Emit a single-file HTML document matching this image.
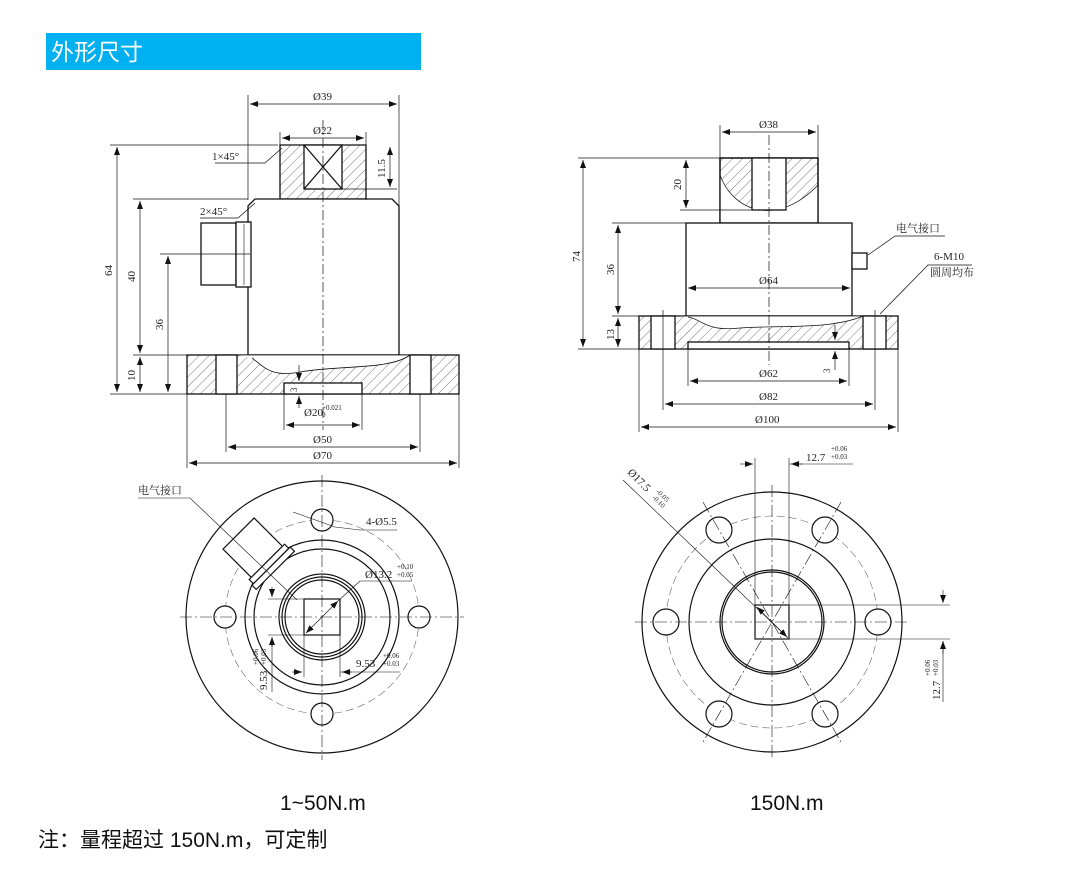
<!DOCTYPE html>
<html><head><meta charset="utf-8"><style>
html,body{margin:0;padding:0;background:#fff;}
svg{display:block;}
.t{font-family:"Liberation Serif","Noto Serif CJK SC",serif;font-size:11px;fill:#222;}
.c{font-family:"Liberation Sans","Noto Sans CJK SC",sans-serif;fill:#111;}
</style></head><body>
<svg width="1078" height="884" viewBox="0 0 1078 884" xmlns="http://www.w3.org/2000/svg">
<defs>
<pattern id="h" width="7" height="7" patternUnits="userSpaceOnUse" patternTransform="rotate(45)">
<rect width="7" height="7" fill="#fff"/><line x1="0" y1="0" x2="0" y2="7" stroke="#555" stroke-width="0.8"/>
</pattern>
<marker id="a" markerWidth="8" markerHeight="6" refX="8" refY="3" orient="auto-start-reverse" markerUnits="userSpaceOnUse"><path d="M0,0 L8,3 L0,6z" fill="#111"/></marker>
</defs>
<rect x="46" y="33" width="375" height="37" fill="#00b0f0"/>
<text x="51" y="60" class="c" font-size="23" fill="#fff" style="fill:#fff">外形尺寸</text>

<g fill="none" stroke="#111" stroke-width="1.3">
<!-- LEFT SIDE VIEW -->
<path d="M280,145 h86 v54 h-86z" fill="url(#h)"/>
<rect x="304" y="145" width="38" height="44" fill="#fff"/>
<path d="M304,145 L342,189 M342,145 L304,189"/>
<path d="M248,206 L255,199 H392 L399,206 V355 H248Z" fill="#fff"/>
<rect x="187" y="355" width="272" height="39" fill="url(#h)"/>
<rect x="216" y="355" width="21" height="39" fill="#fff"/>
<rect x="410" y="355" width="21" height="39" fill="#fff"/>
<path d="M237,355 H410 C390,370 340,365 300,372 C270,378 262,365 252,358" fill="#fff" stroke-width="0.8"/>
<rect x="284" y="383" width="78" height="11" fill="#fff"/>
<rect x="201" y="223" width="35" height="62" fill="#fff"/>
<rect x="236" y="222" width="15" height="65" fill="#fff"/>
<line x1="244" y1="224" x2="244" y2="285" stroke-width="0.6"/>
</g>
<g stroke="#111" stroke-width="0.7" fill="none">
<line x1="323" y1="120" x2="323" y2="430" stroke-dasharray="10,3,2,3"/>
<line x1="248" y1="95" x2="248" y2="200"/><line x1="399" y1="95" x2="399" y2="355"/>
<line x1="250" y1="104" x2="397" y2="104" marker-start="url(#a)" marker-end="url(#a)"/>
<line x1="280" y1="132" x2="280" y2="145"/><line x1="366" y1="132" x2="366" y2="200"/>
<line x1="282" y1="138" x2="364" y2="138" marker-start="url(#a)" marker-end="url(#a)"/>
<line x1="110" y1="145" x2="278" y2="145"/><line x1="342" y1="189" x2="397" y2="189"/>
<line x1="117" y1="147" x2="117" y2="392" marker-start="url(#a)" marker-end="url(#a)"/>
<line x1="390" y1="147" x2="390" y2="187" marker-start="url(#a)" marker-end="url(#a)"/>
<line x1="133" y1="199" x2="248" y2="199"/>
<line x1="140" y1="201" x2="140" y2="353" marker-start="url(#a)" marker-end="url(#a)"/>
<line x1="133" y1="355" x2="187" y2="355"/><line x1="110" y1="394" x2="187" y2="394"/>
<line x1="140" y1="357" x2="140" y2="392" marker-start="url(#a)" marker-end="url(#a)"/>
<line x1="160" y1="254" x2="250" y2="254"/>
<line x1="168" y1="256" x2="168" y2="392" marker-start="url(#a)" marker-end="url(#a)"/>
<path d="M215,163 H265 L282,148"/><path d="M200,218 H238 L255,203"/>
<line x1="284" y1="394" x2="284" y2="430"/><line x1="362" y1="394" x2="362" y2="430"/>
<line x1="286" y1="425" x2="360" y2="425" marker-start="url(#a)" marker-end="url(#a)"/>
<line x1="226" y1="394" x2="226" y2="452"/><line x1="420" y1="394" x2="420" y2="452"/>
<line x1="228" y1="447" x2="418" y2="447" marker-start="url(#a)" marker-end="url(#a)"/>
<line x1="187" y1="394" x2="187" y2="468"/><line x1="459" y1="394" x2="459" y2="468"/>
<line x1="189" y1="463" x2="457" y2="463" marker-start="url(#a)" marker-end="url(#a)"/>
<line x1="299" y1="365" x2="299" y2="381" marker-end="url(#a)"/><line x1="299" y1="408" x2="299" y2="396" marker-end="url(#a)"/>
</g>
<g class="t">
<text x="313" y="100">Ø39</text><text x="313" y="134">Ø22</text>
<text x="212" y="160">1×45°</text><text x="200" y="215">2×45°</text>
<text x="304" y="416">Ø20</text><text x="322" y="410" font-size="7">+0.021</text><text x="322" y="417" font-size="7">0</text>
<text x="313" y="443">Ø50</text><text x="313" y="459">Ø70</text>
<text transform="translate(112,276) rotate(-90)">64</text>
<text transform="translate(135,282) rotate(-90)">40</text>
<text transform="translate(163,330) rotate(-90)">36</text>
<text transform="translate(135,381) rotate(-90)">10</text>
<text transform="translate(385,178) rotate(-90)">11.5</text>
<text transform="translate(297,392) rotate(-90)" font-size="9">3</text>
</g>

<!-- RIGHT SIDE VIEW -->
<g fill="none" stroke="#111" stroke-width="1.3">
<rect x="720" y="158" width="98" height="65" fill="url(#h)"/>
<path d="M720,175 C735,215 780,225 818,185 V223 H720Z" fill="#fff" stroke="none"/>
<path d="M720,175 C735,215 780,225 818,185" stroke-width="0.7"/>
<rect x="720" y="158" width="98" height="65"/>
<rect x="752" y="158" width="34" height="52" fill="#fff"/>
<rect x="686" y="223" width="166" height="93" fill="#fff"/>
<rect x="639" y="316" width="259" height="33" fill="url(#h)"/>
<rect x="651" y="316" width="24" height="33" fill="#fff"/>
<rect x="863" y="316" width="23" height="33" fill="#fff"/>
<path d="M675,316 H863 C830,330 780,325 740,328 C705,332 700,318 688,317" fill="#fff" stroke-width="0.7"/>
<rect x="688" y="342" width="161" height="7" fill="#fff"/>
<rect x="852" y="253" width="15" height="16" fill="#fff"/>
</g>
<g stroke="#111" stroke-width="0.7" fill="none">
<line x1="769" y1="135" x2="769" y2="365" stroke-dasharray="10,3,2,3"/>
<line x1="720" y1="125" x2="720" y2="158"/><line x1="818" y1="125" x2="818" y2="158"/>
<line x1="722" y1="132" x2="816" y2="132" marker-start="url(#a)" marker-end="url(#a)"/>
<line x1="578" y1="158" x2="720" y2="158"/><line x1="578" y1="349" x2="639" y2="349"/>
<line x1="583" y1="160" x2="583" y2="347" marker-start="url(#a)" marker-end="url(#a)"/>
<line x1="680" y1="210" x2="752" y2="210"/>
<line x1="686" y1="160" x2="686" y2="208" marker-start="url(#a)" marker-end="url(#a)"/>
<line x1="612" y1="223" x2="686" y2="223"/><line x1="612" y1="316" x2="639" y2="316"/>
<line x1="618" y1="225" x2="618" y2="314" marker-start="url(#a)" marker-end="url(#a)"/>
<line x1="618" y1="318" x2="618" y2="347" marker-start="url(#a)" marker-end="url(#a)"/>
<line x1="688" y1="288" x2="850" y2="288" marker-start="url(#a)" marker-end="url(#a)"/>
<line x1="688" y1="349" x2="688" y2="386"/><line x1="849" y1="349" x2="849" y2="386"/>
<line x1="690" y1="381" x2="847" y2="381" marker-start="url(#a)" marker-end="url(#a)"/>
<line x1="663" y1="310" x2="663" y2="410"/><line x1="875" y1="310" x2="875" y2="410"/>
<line x1="665" y1="404" x2="873" y2="404" marker-start="url(#a)" marker-end="url(#a)"/>
<line x1="639" y1="349" x2="639" y2="432"/><line x1="898" y1="349" x2="898" y2="432"/>
<line x1="641" y1="427" x2="896" y2="427" marker-start="url(#a)" marker-end="url(#a)"/>
<line x1="835" y1="325" x2="835" y2="340" marker-end="url(#a)"/><line x1="835" y1="370" x2="835" y2="351" marker-end="url(#a)"/>
<path d="M868,255 L895,236 H945"/><path d="M880,314 L928,265 H972"/>
</g>
<g class="t">
<text x="759" y="128">Ø38</text><text x="759" y="284">Ø64</text>
<text x="759" y="377">Ø62</text><text x="759" y="400">Ø82</text><text x="755" y="423">Ø100</text>
<text transform="translate(580,262) rotate(-90)">74</text>
<text transform="translate(681,190) rotate(-90)">20</text>
<text transform="translate(614,275) rotate(-90)">36</text>
<text transform="translate(614,340) rotate(-90)">13</text>
<text transform="translate(830,373) rotate(-90)" font-size="9">3</text>
<text x="896" y="232" font-size="11">电气接口</text>
<text x="934" y="260">6-M10</text><text x="930" y="276">圆周均布</text>
</g>

<!-- BOTTOM LEFT VIEW -->
<g stroke="#111" fill="none" stroke-width="1.2">
<circle cx="322" cy="617" r="136"/>
<circle cx="322" cy="617" r="97" stroke-width="0.6" stroke-dasharray="8,4" stroke="#666"/>
<circle cx="322" cy="617" r="77"/><circle cx="322" cy="617" r="68"/>
<circle cx="322" cy="617" r="43"/><circle cx="322" cy="617" r="40"/><circle cx="322" cy="617" r="37"/>
<rect x="304" y="599" width="36" height="36"/>
<circle cx="322" cy="520" r="11" fill="#fff"/><circle cx="322" cy="714" r="11" fill="#fff"/>
<circle cx="225" cy="617" r="11" fill="#fff"/><circle cx="419" cy="617" r="11" fill="#fff"/>
<g transform="translate(322,617) rotate(-45)">
<rect x="-22" y="-118" width="44" height="40" fill="#fff"/>
<rect x="-25" y="-78" width="50" height="6" fill="#fff"/>
<rect x="-27" y="-72" width="54" height="6" fill="#fff"/>
</g>
</g>
<g stroke="#111" stroke-width="0.6" fill="none">
<line x1="180" y1="617" x2="464" y2="617" stroke-dasharray="12,3,2,3"/>
<line x1="322" y1="475" x2="322" y2="760" stroke-dasharray="12,3,2,3"/>
<line x1="306" y1="633" x2="338" y2="601" marker-start="url(#a)" marker-end="url(#a)"/>
<line x1="338" y1="601" x2="360" y2="581"/><line x1="360" y1="581" x2="412" y2="581"/>
<path d="M138,498 H190 L297,600"/>
<path d="M293,512 L335,527 L360,530 H397"/>
<line x1="304" y1="635" x2="304" y2="677"/><line x1="340" y1="635" x2="340" y2="677"/>
<line x1="292" y1="672" x2="302" y2="672" marker-end="url(#a)"/><line x1="352" y1="672" x2="342" y2="672" marker-end="url(#a)"/><line x1="340" y1="672" x2="400" y2="672"/>
<line x1="268" y1="599" x2="304" y2="599"/><line x1="268" y1="635" x2="304" y2="635"/>
<line x1="272" y1="587" x2="272" y2="597" marker-end="url(#a)"/><line x1="272" y1="647" x2="272" y2="637" marker-end="url(#a)"/><line x1="272" y1="637" x2="272" y2="692"/>
</g>
<g class="t">
<text x="138" y="494">电气接口</text>
<text x="366" y="525">4-Ø5.5</text>
<text x="365" y="578">Ø13.2</text><text x="397" y="569" font-size="7">+0.10</text><text x="397" y="577" font-size="7">+0.05</text>
<text x="356" y="667">9.53</text><text x="383" y="658" font-size="7">+0.06</text><text x="383" y="666" font-size="7">+0.03</text>
<text transform="translate(267,690) rotate(-90)">9.53</text>
<text transform="translate(258,665) rotate(-90)" font-size="7">+0.06</text>
<text transform="translate(266,665) rotate(-90)" font-size="7">+0.03</text>
</g>

<!-- BOTTOM RIGHT VIEW -->
<g stroke="#111" fill="none" stroke-width="1.2">
<circle cx="772" cy="622" r="130"/>
<circle cx="772" cy="622" r="106" stroke-width="0.6" stroke-dasharray="8,4" stroke="#666"/>
<circle cx="772" cy="622" r="83"/>
<circle cx="772" cy="622" r="52"/><circle cx="772" cy="622" r="50"/>
<rect x="755" y="605" width="34" height="34"/>
<circle cx="666" cy="622" r="13" fill="#fff"/><circle cx="878" cy="622" r="13" fill="#fff"/>
<circle cx="719" cy="530" r="13" fill="#fff"/><circle cx="825" cy="530" r="13" fill="#fff"/>
<circle cx="719" cy="714" r="13" fill="#fff"/><circle cx="825" cy="714" r="13" fill="#fff"/>
</g>
<g stroke="#111" stroke-width="0.6" fill="none">
<line x1="635" y1="622" x2="910" y2="622" stroke-dasharray="12,3,2,3"/>
<line x1="772" y1="485" x2="772" y2="760" stroke-dasharray="12,3,2,3"/>
<line x1="703" y1="502" x2="841" y2="742" stroke-dasharray="12,3,2,3"/>
<line x1="841" y1="502" x2="703" y2="742" stroke-dasharray="12,3,2,3"/>
<line x1="623" y1="480" x2="788" y2="638"/>
<line x1="757" y1="607" x2="787" y2="637" marker-start="url(#a)" marker-end="url(#a)"/>
<line x1="755" y1="458" x2="755" y2="605"/><line x1="789" y1="458" x2="789" y2="605"/>
<line x1="740" y1="464" x2="753" y2="464" marker-end="url(#a)"/><line x1="803" y1="464" x2="791" y2="464" marker-end="url(#a)"/><line x1="789" y1="464" x2="853" y2="464"/>
<line x1="789" y1="605" x2="950" y2="605"/><line x1="789" y1="639" x2="950" y2="639"/>
<line x1="943" y1="590" x2="943" y2="603" marker-end="url(#a)"/><line x1="943" y1="654" x2="943" y2="641" marker-end="url(#a)"/><line x1="943" y1="641" x2="943" y2="702"/>
</g>
<g class="t">
<text x="806" y="461">12.7</text><text x="831" y="451" font-size="7">+0.06</text><text x="831" y="459" font-size="7">+0.03</text>
<text transform="translate(627,473) rotate(45)">Ø17.5</text>
<text transform="translate(656,492) rotate(45)" font-size="7">-0.05</text>
<text transform="translate(652,498) rotate(45)" font-size="7">-0.10</text>
<text transform="translate(940,700) rotate(-90)">12.7</text>
<text transform="translate(930,676) rotate(-90)" font-size="7">+0.06</text>
<text transform="translate(938,676) rotate(-90)" font-size="7">+0.03</text>
</g>

<text x="280" y="810" class="c" font-size="21">1~50N.m</text>
<text x="750" y="810" class="c" font-size="21">150N.m</text>
<text x="38" y="847" class="c" font-size="21">注：量程超过 150N.m，可定制</text>
</svg>
</body></html>
